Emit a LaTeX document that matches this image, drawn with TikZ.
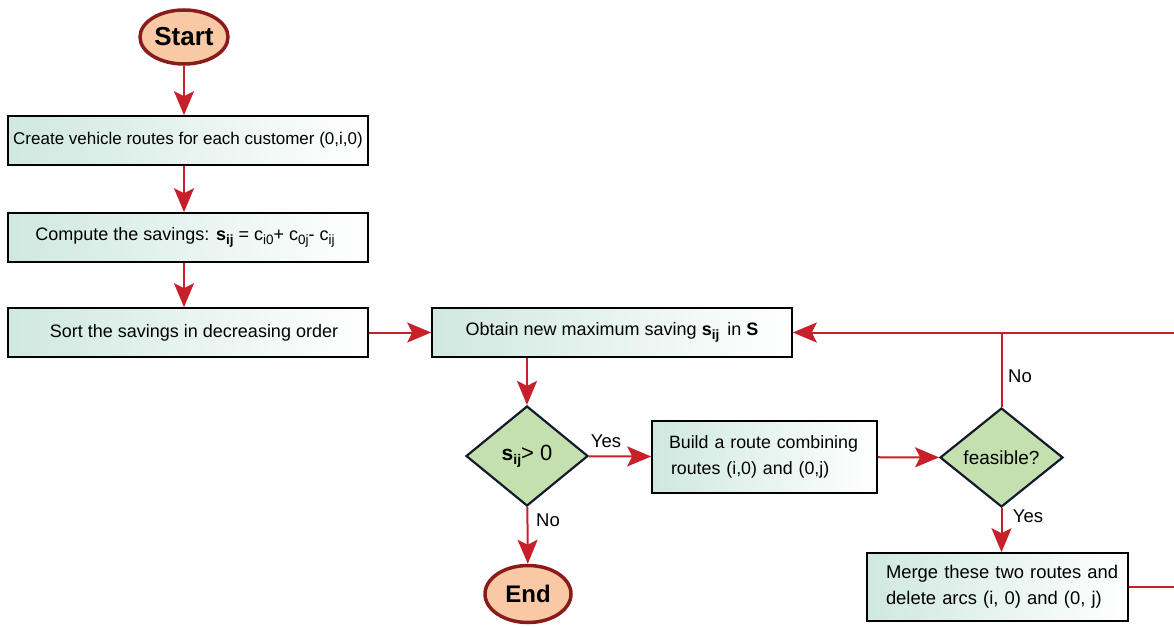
\documentclass[tikz,border=0pt]{standalone}
\usepackage{fontspec}
\setmainfont{Liberation Sans}
\usetikzlibrary{shapes.geometric,arrows.meta}
\definecolor{flowred}{HTML}{C8202A}
\definecolor{termfill}{HTML}{F9C9A6}
\definecolor{termline}{HTML}{8B1A1A}
\definecolor{boxfill}{HTML}{CFE8DF}
\definecolor{decfill}{HTML}{C5E0AF}
\definecolor{decline}{HTML}{141A2E}
\newcommand{\lowsub}[1]{\raisebox{-0.4ex}{\fontsize{13.5}{14}\selectfont #1}}
\newcommand{\bigsub}[1]{\raisebox{-0.4ex}{\fontsize{14}{15}\selectfont #1}}
\tikzset{
  terminal/.style={ellipse, draw=termline, line width=3.5pt, fill=termfill,
    minimum width=88pt, minimum height=54pt, inner sep=0pt,
    font=\fontsize{26}{29}\selectfont\bfseries},
  procbox/.style={rectangle, draw=black, line width=1.6pt,
    left color=boxfill, right color=white, inner sep=0pt,
    minimum height=49pt, font=\fontsize{18}{24}\selectfont},
  decision/.style={diamond, draw=decline, line width=2.2pt, fill=decfill,
    inner sep=0pt, aspect=1.22, font=\fontsize{19}{22}\selectfont},
  flow/.style={draw=flowred, line width=2pt,
    -{Stealth[length=24pt,width=20pt,inset=5pt]}},
  flowline/.style={draw=flowred, line width=2pt},
  lbl/.style={font=\fontsize{18.5}{20}\selectfont, inner sep=0pt}
}
\begin{document}
\begin{tikzpicture}[x=1pt,y=-1pt]
\useasboundingbox (0,0) rectangle (1174,626);

% terminals
\node[terminal] (start) at (184,37) {Start};
\node[terminal, minimum width=86pt, minimum height=57pt,
  font=\fontsize{24}{27}\selectfont\bfseries] (end) at (528,594) {End};

% left column of steps
\node[procbox, minimum width=360pt, font=\fontsize{17}{24}\selectfont] (b1) at (188,140.5)
  {Create vehicle routes for each customer (0,i,0)};
\node[procbox, minimum width=360pt] (b2) at (188,237.5)
  {\hspace{-6pt}Compute the savings: \textbf{s\lowsub{ij}} = c\lowsub{i0}+ c\lowsub{0j}- c\lowsub{ij}};
\node[procbox, minimum width=360pt] (b3) at (188,332.5)
  {\hspace{12pt}Sort the savings in decreasing order};

% main loop
\node[procbox, minimum width=360pt] (b4) at (612,332.5)
  {Obtain new maximum saving \textbf{s\lowsub{ij}}\, in \textbf{S}\hspace{18pt}};
\node[decision, minimum width=122pt, minimum height=100pt] (d1) at (527,456)
  {\textbf{\fontsize{21}{22}\selectfont s\bigsub{ij}}{\fontsize{22}{24}\selectfont > 0}};
\node[procbox, minimum width=225pt, minimum height=72pt, align=left,
  text width=225pt, font=\fontsize{17.8}{26}\selectfont] (b5) at (764.5,457)
  {\hspace*{17pt}Build a route combining\\\hspace*{19pt}routes (i,0) and (0,j)};
\node[decision, minimum width=123pt, minimum height=99pt] (d2) at (1001.5,457.5)
  {feasible?};
\node[procbox, minimum width=261pt, minimum height=68pt, align=left,
  text width=261pt, font=\fontsize{18.4}{26}\selectfont] (b6) at (997.5,587)
  {\hspace*{19pt}Merge these two routes and\\\hspace*{19pt}delete arcs (i, 0) and (0, j)};

% loop ends leaving the drawing area
\coordinate (loopin) at (1174,332.5);
\coordinate (loopout) at (1174,587);
\coordinate (join) at (d2.north |- b4.east);

% connectors
\draw[flow] (start) -- (start |- b1.north);
\draw[flow] (start |- b1.south) -- (start |- b2.north);
\draw[flow] (start |- b2.south) -- (start |- b3.north);
\draw[flow] (b3) -- (b4);
\draw[flow] (d1.north |- b4.south) -- (d1.north);
\draw[flow] (d1) -- (end);
\draw[flow] (d1) -- (b5);
\draw[flow] (b5) -- (d2);
\draw[flow] (d2.south) -- (d2.south |- b6.north);
\draw[flowline] (d2.north) -- (join);
\draw[flow] (loopin) -- (b4.east);
\draw[flowline] (b6.east) -- (loopout);

% branch labels
\node[lbl] (yes1) at (606,441) {Yes};
\node[lbl] (no1) at (548,520) {No};
\node[lbl] (no2) at (1020,376) {No};
\node[lbl] (yes2) at (1028,516) {Yes};
\end{tikzpicture}
\end{document}
